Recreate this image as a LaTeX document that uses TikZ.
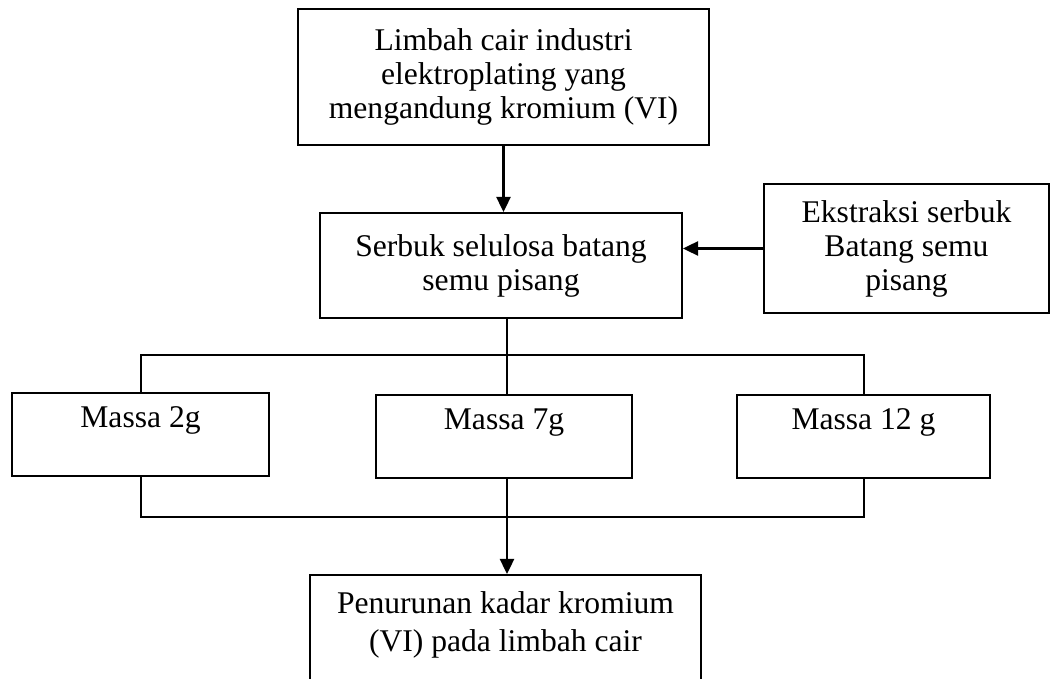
\documentclass[tikz,border=0pt]{standalone}
\usepackage{fontspec}
\setmainfont{Liberation Serif}
\usetikzlibrary{arrows.meta}

\begin{document}
\begin{tikzpicture}[x=0.5pt, y=-0.5pt,
  box/.style={draw, line width=1pt, align=center, inner sep=0pt, font=\fontsize{15.8}{17}\selectfont},
  massa/.style={box, text height=17.5pt, text depth=24pt},
  arr/.style={-{Triangle[length=7.5pt, width=7pt]}, line width=1.2pt},
  garis/.style={line width=1pt}]
\useasboundingbox (0,0) rectangle (1051,679);
\node[box, minimum width=205.5pt, minimum height=68pt] (limbah) at (503.5,77) {Limbah cair industri\\ elektroplating yang\\ mengandung kromium (VI)};
\node[box, minimum width=181pt, minimum height=52.5pt] (serbuk) at (501,265.5) {Serbuk selulosa batang\\ semu pisang};
\node[box, minimum width=142.5pt, minimum height=64.5pt] (ekstrak) at (906.5,248.5) {Ekstraksi serbuk\\ Batang semu\\ pisang};
\node[massa, minimum width=128.5pt] (massaA) at (140.5,434.5) {Massa 2g};
\node[massa, minimum width=128pt] (massaB) at (504,436.5) {Massa 7g};
\node[massa, minimum width=126.5pt] (massaC) at (863.5,436.5) {Massa 12 g};
\node[box, minimum width=195.5pt, text height=38.5pt, text depth=31.5pt, font=\fontsize{15.8}{19.5}\selectfont] (hasil) at (505.5,645) {Penurunan kadar kromium\\ (VI) pada limbah cair};
\coordinate (bagi) at (507,355);
\coordinate (gabung) at (507,517);
\draw[arr] (limbah.south) -- (limbah.south |- serbuk.north);
\draw[arr] (ekstrak.west) -- (ekstrak.west -| serbuk.east);
\draw[garis] (serbuk.south -| bagi) -- (massaB.north -| bagi);
\draw[garis] (massaA.north) |- (bagi) -| (massaC.north);
\draw[garis] (massaA.south) |- (gabung) -| (massaC.south);
\draw[garis] (massaB.south -| gabung) -- (gabung);
\draw[arr] (gabung) -- (gabung |- hasil.north);
\end{tikzpicture}
\end{document}
